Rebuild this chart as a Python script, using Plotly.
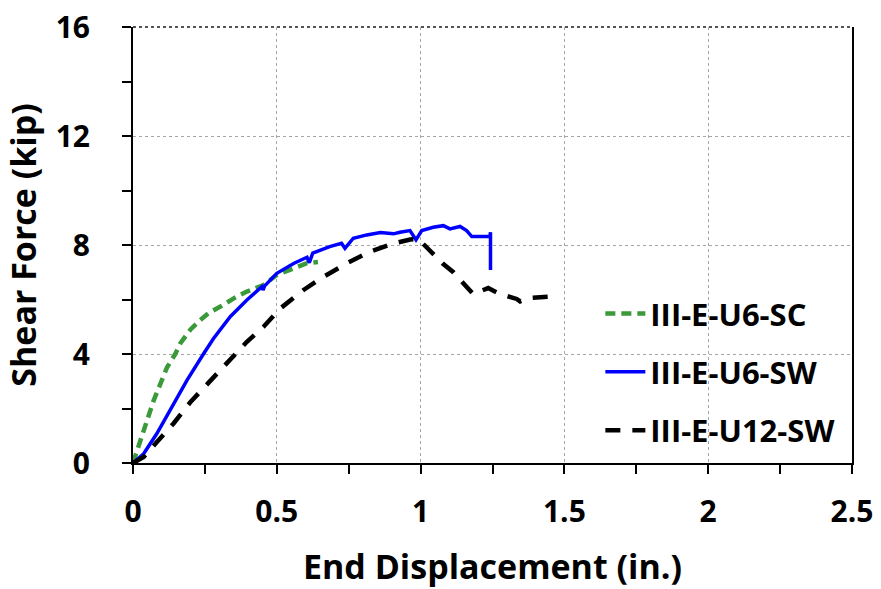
import plotly.graph_objects as go

# III-E-U6-SC (green dashed)
sc_x = [0.0, 0.025, 0.072, 0.118, 0.147, 0.165, 0.20, 0.234, 0.263, 0.304, 0.35, 0.396, 0.454, 0.50, 0.56, 0.605, 0.643]
sc_y = [0.0, 0.83, 2.3, 3.5, 4.0, 4.4, 4.9, 5.25, 5.5, 5.74, 6.04, 6.29, 6.53, 6.9, 7.14, 7.33, 7.38]

# III-E-U6-SW (blue solid)
sw6_x = [0.0, 0.037, 0.083, 0.13, 0.188, 0.246, 0.28, 0.338, 0.396, 0.448, 0.452, 0.458, 0.50, 0.56, 0.605, 0.613, 0.625,
         0.684, 0.725, 0.737, 0.766, 0.813, 0.86, 0.906, 0.928, 0.963, 0.984, 1.004, 1.044, 1.079, 1.102, 1.137, 1.16,
         1.178, 1.241, 1.243, 1.243]
sw6_y = [0.0, 0.34, 1.08, 1.94, 3.04, 4.02, 4.57, 5.37, 5.98, 6.47, 6.35, 6.5, 6.96, 7.33, 7.55, 7.35, 7.7,
         7.94, 8.06, 7.88, 8.25, 8.37, 8.46, 8.41, 8.47, 8.53, 8.19, 8.53, 8.65, 8.71, 8.59, 8.68, 8.53,
         8.31, 8.31, 8.47, 7.08]

# III-E-U12-SW (black dashed)
sw12_x = [0.0, 0.037, 0.083, 0.141, 0.20, 0.27, 0.327, 0.396, 0.454, 0.512, 0.593, 0.663, 0.744, 0.825, 0.906, 0.964,
          0.992, 1.033, 1.079, 1.114, 1.154, 1.183, 1.235, 1.276, 1.334, 1.346, 1.374, 1.438, 1.461, 1.479]
sw12_y = [0.0, 0.22, 0.77, 1.45, 2.24, 3.04, 3.71, 4.45, 5.0, 5.67, 6.35, 6.84, 7.33, 7.76, 8.06, 8.2,
          8.22, 7.79, 7.3, 7.0, 6.57, 6.2, 6.42, 6.2, 6.02, 5.93, 6.05, 6.08, 6.11, 5.99]

FONT = "Open Sans"

fig = go.Figure()
fig.add_trace(go.Scatter(x=sc_x, y=sc_y, mode="lines", name="III-E-U6-SC", legendgroup="a",
                         line=dict(color="#3a9a3a", width=4.5, dash="10px,6px")))
fig.add_trace(go.Scatter(x=sw6_x, y=sw6_y, mode="lines", name="III-E-U6-SW", legendgroup="b",
                         line=dict(color="#0000ff", width=3.5)))
fig.add_trace(go.Scatter(x=sw12_x, y=sw12_y, mode="lines", name="III-E-U12-SW", legendgroup="c",
                         line=dict(color="#000000", width=4.5, dash="15px,12px")))

fig.add_shape(type="line", xref="paper", yref="paper", x0=0, x1=1, y0=1, y1=1,
              line=dict(color="#555555", width=2, dash="dot"), layer="below")

fig.update_layout(
    width=881, height=589,
    margin=dict(l=133, r=29, t=27, b=126, autoexpand=False),
    paper_bgcolor="white", plot_bgcolor="white",
    font=dict(family=FONT, size=30, color="black", weight="bold"),
    legend=dict(x=0.650, y=0.209, xanchor="left", yanchor="middle", bgcolor="rgba(0,0,0,0)",
                font=dict(family=FONT, size=31, color="black", weight="bold"),
                tracegroupgap=15, itemwidth=40),
    xaxis=dict(range=[0, 2.5], dtick=0.5, tick0=0, showline=True, linecolor="black", linewidth=2,
               ticks="outside", ticklen=9, tickwidth=2, tickcolor="black", automargin=False,
               showgrid=True, gridcolor="#a6a6a6", griddash="dot", gridwidth=1,
               zeroline=False, tickfont=dict(size=30), ticklabelstandoff=12, ticklabeloverflow="allow",
               minor=dict(dtick=0.25, ticks="outside", ticklen=9, tickwidth=2, tickcolor="black", showgrid=False),
               title=dict(text="End Displacement (in.)", font=dict(size=34), standoff=31)),
    yaxis=dict(range=[0, 16], dtick=4, tick0=0, showline=True, linecolor="black", linewidth=2, mirror=True,
               ticks="outside", ticklen=9, tickwidth=2, tickcolor="black", automargin=False,
               showgrid=True, gridcolor="#a6a6a6", griddash="dot", gridwidth=1,
               zeroline=False, tickfont=dict(size=30), ticklabelstandoff=26, ticklabeloverflow="allow",
               minor=dict(dtick=2, ticks="outside", ticklen=9, tickwidth=2, tickcolor="black", showgrid=False),
               title=dict(text="Shear Force (kip)", font=dict(size=34), standoff=9)),
)

fig.write_html("out.html", config={"displayModeBar": False},
               post_script="document.body.style.margin='0';document.body.style.overflow='hidden';")
